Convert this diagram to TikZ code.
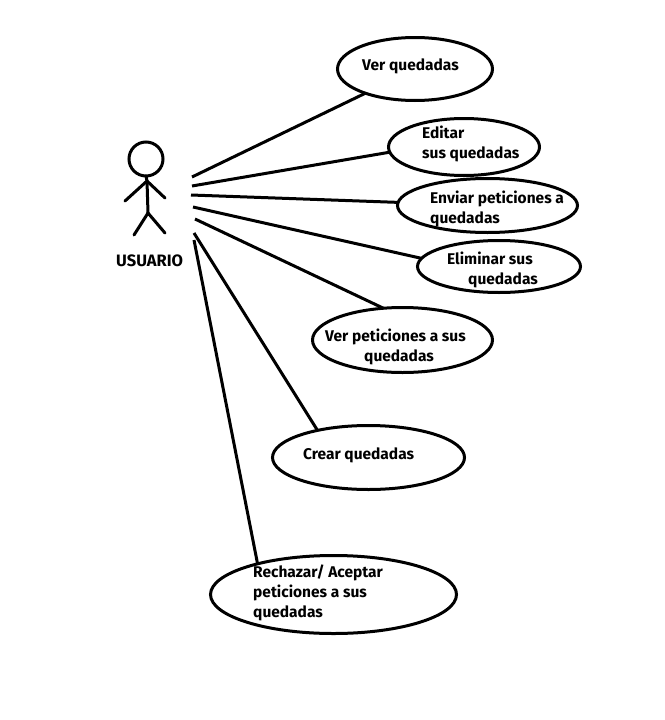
\documentclass[tikz,border=0pt]{standalone}
\usepackage{fontspec}
\setmainfont{Fira Sans}
\usetikzlibrary{shapes.geometric}
\tikzset{
  uc/.style={draw=black,line width=3pt,ellipse,inner sep=0pt,outer sep=0pt},
  lnk/.style={draw=black,line width=3pt},
  stick/.style={draw=black,line width=3pt,line cap=round},
  lbl/.style={anchor=base west,inner sep=0pt,font=\fontsize{15.5}{15.5}\selectfont\bfseries,text=black}
}
\begin{document}
\begin{tikzpicture}[x=1pt,y=-1pt]
\useasboundingbox (0,0) rectangle (664,720);
% ellipses
\node[uc,minimum width=155pt,minimum height=63pt] (e1) at (415,69) {};
\node[uc,minimum width=151pt,minimum height=57pt] (e2) at (464,147) {};
\node[uc,minimum width=180pt,minimum height=54pt] (e3) at (487.5,205.5) {};
\node[uc,minimum width=163pt,minimum height=52pt] (e4) at (499,266.5) {};
\node[uc,minimum width=180pt,minimum height=65pt] (e5) at (402.5,340) {};
\node[uc,minimum width=192pt,minimum height=64pt] (e6) at (368.5,457.5) {};
\node[uc,minimum width=246pt,minimum height=78pt] (e7) at (333.5,594.5) {};
% actor
\node[draw=black,line width=3pt,circle,minimum size=34pt,inner sep=0pt,outer sep=0pt] (head) at (146,159) {};
\coordinate (hip) at (148,213);
\coordinate (sh) at (147,181);
\coordinate (handl) at (125,201);
\coordinate (handr) at (165,198);
\coordinate (footl) at (134,235);
\coordinate (footr) at (165,233);
\draw[stick] (head.south) -- (sh) -- (hip);
\draw[stick] (handl) -- (sh) -- (handr);
\draw[stick] (footl) -- (hip) -- (footr);
% connector start points
\coordinate (s1) at (192,177);
\coordinate (s2) at (192,186);
\coordinate (s3) at (191,195);
\coordinate (s4) at (193,207);
\coordinate (s5) at (195,219);
\coordinate (s6) at (194,233);
\coordinate (s7) at (194,240);
\draw[lnk] (s1) -- (e1.206);
\draw[lnk] (s2) -- (e2.184.5);
\draw[lnk] (s3) -- (e3.178);
\draw[lnk] (s4) -- (e4.174);
\draw[lnk] (s5) -- (e5.121);
\draw[lnk] (s6) -- (e6.152);
\draw[lnk] (s7) -- (e7.158);
% labels
\node[lbl,font=\fontsize{16.5}{16.5}\selectfont\bfseries] (tu) at (116,266) {USUARIO};
\node[lbl] (t1) at (362,70) {Ver quedadas};
\node[lbl] (t2a) at (422,138) {Editar};
\node[lbl] (t2b) at (422,158) {sus quedadas};
\node[lbl] (t3a) at (430,203) {Enviar peticiones a};
\node[lbl] (t3b) at (430,223) {quedadas};
\node[lbl] (t4a) at (447,264) {Eliminar sus};
\node[lbl] (t4b) at (468,284) {quedadas};
\node[lbl] (t5a) at (325,341) {Ver peticiones a sus};
\node[lbl] (t5b) at (364,361) {quedadas};
\node[lbl] (t6) at (303,459) {Crear quedadas};
\node[lbl] (t7a) at (253,577) {Rechazar/ Aceptar};
\node[lbl] (t7b) at (253,597) {peticiones a sus};
\node[lbl] (t7c) at (253,617) {quedadas};
\end{tikzpicture}
\end{document}
